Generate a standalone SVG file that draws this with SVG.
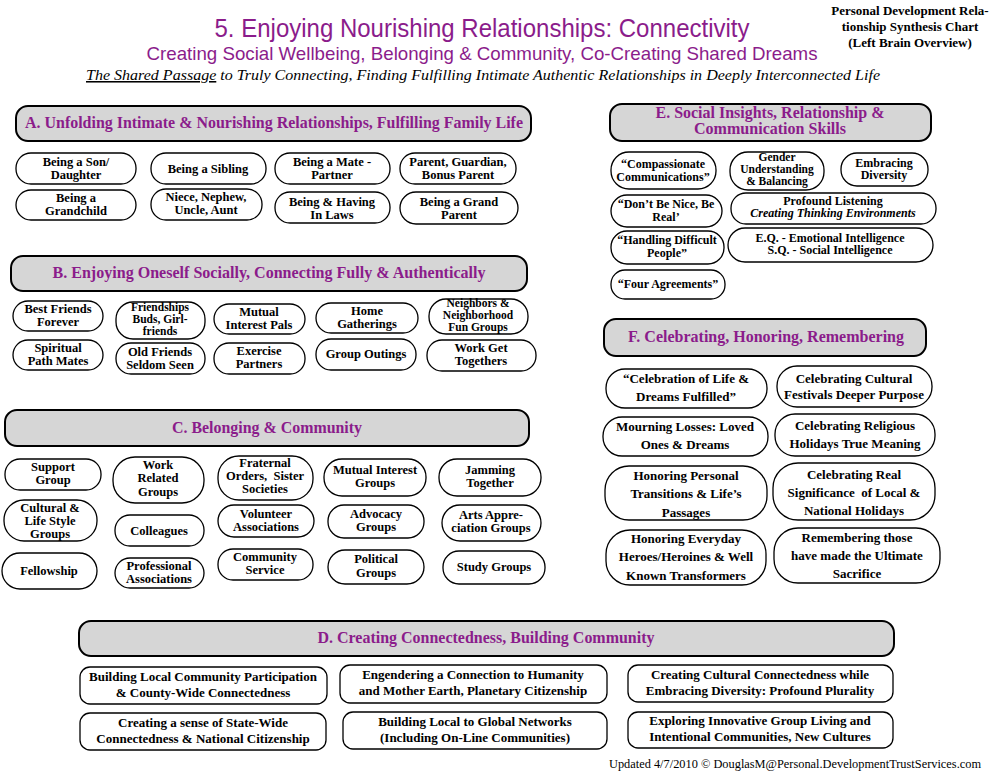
<svg xmlns="http://www.w3.org/2000/svg" width="995" height="774" viewBox="0 0 995 774">
<style>
text{font-family:"Liberation Serif","Times New Roman",serif;}
.ttl{font-family:"Liberation Sans",Arial,sans-serif;fill:#8b1c8b;text-anchor:middle;}
.hdr rect{fill:#d6d6d6;stroke:#000;stroke-width:2;}
.hdr text{font-weight:bold;font-size:16px;fill:#8b1c8b;text-anchor:middle;}
.n rect{fill:#fff;stroke:#000;stroke-width:1.3;}
.n text{font-weight:bold;font-size:12.5px;fill:#000;text-anchor:middle;white-space:pre;}
.e text{font-size:12px;}
.d text{font-size:13px;}
.f text{font-size:13px;}
.n.s text{font-size:11.5px;}
.it{font-style:italic;}
</style>
<rect width="995" height="774" fill="#fff"/>
<g id="title">
<text class="ttl" x="482" y="37" font-size="25" textLength="535" lengthAdjust="spacingAndGlyphs">5. Enjoying Nourishing Relationships: Connectivity</text>
<text class="ttl" x="482" y="60" font-size="19" textLength="671" lengthAdjust="spacingAndGlyphs">Creating Social Wellbeing, Belonging &amp; Community, Co-Creating Shared Dreams</text>
<text x="483" y="80" font-size="15.5" font-style="italic" text-anchor="middle" textLength="794" lengthAdjust="spacingAndGlyphs"><tspan text-decoration="underline">The Shared Passage</tspan> to Truly Connecting, Finding Fulfilling Intimate Authentic Relationships in Deeply Interconnected Life</text>
<g font-weight="bold" font-size="13" text-anchor="middle">
<text x="910" y="15">Personal Development Rela-</text>
<text x="910" y="31">tionship Synthesis Chart</text>
<text x="910" y="47">(Left Brain Overview)</text>
</g>
</g>
<g id="connectors"/>

<!-- A -->
<g id="hdrA" class="hdr"><rect x="16" y="106" width="515" height="35" rx="12"/><text x="274" y="128" textLength="498" lengthAdjust="spacingAndGlyphs">A. Unfolding Intimate &amp; Nourishing Relationships, Fulfilling Family Life</text></g>
<g id="a1" class="n"><rect x="16" y="153" width="120" height="31" rx="15"/><text x="76" y="166">Being a Son/</text><text x="76" y="179">Daughter</text></g>
<g id="a2" class="n"><rect x="151" y="153" width="115" height="31" rx="15"/><text x="208" y="173">Being a Sibling</text></g>
<g id="a3" class="n"><rect x="275" y="153" width="115" height="31" rx="15"/><text x="332" y="166">Being a Mate -</text><text x="332" y="179">Partner</text></g>
<g id="a4" class="n"><rect x="400" y="153" width="116" height="31" rx="15"/><text x="458" y="166">Parent, Guardian,</text><text x="458" y="179">Bonus Parent</text></g>
<g id="a5" class="n"><rect x="16" y="190" width="120" height="30" rx="15"/><text x="76" y="202">Being a</text><text x="76" y="215">Grandchild</text></g>
<g id="a6" class="n"><rect x="151" y="189" width="111" height="31" rx="15"/><text x="206" y="201">Niece, Nephew,</text><text x="206" y="214">Uncle, Aunt</text></g>
<g id="a7" class="n"><rect x="275" y="192" width="115" height="31" rx="15"/><text x="332" y="206">Being &amp; Having</text><text x="332" y="219">In Laws</text></g>
<g id="a8" class="n"><rect x="400" y="192" width="118" height="32" rx="16"/><text x="459" y="206">Being a Grand</text><text x="459" y="219">Parent</text></g>

<!-- B -->
<g id="hdrB" class="hdr"><rect x="11" y="256" width="516" height="35" rx="12"/><text x="269" y="278" textLength="433" lengthAdjust="spacingAndGlyphs">B. Enjoying Oneself Socially, Connecting Fully &amp; Authentically</text></g>
<g id="b1" class="n"><rect x="13" y="301" width="90" height="30" rx="15"/><text x="58" y="313">Best Friends</text><text x="58" y="326">Forever</text></g>
<g id="b2" class="n s"><rect x="116" y="302" width="89" height="37" rx="17"/><text x="160" y="311">Friendships</text><text x="160" y="323">Buds, Girl-</text><text x="160" y="335">friends</text></g>
<g id="b3" class="n"><rect x="214" y="304" width="91" height="30" rx="15"/><text x="259" y="316">Mutual</text><text x="259" y="329">Interest Pals</text></g>
<g id="b4" class="n"><rect x="316" y="303" width="102" height="30" rx="15"/><text x="367" y="315">Home</text><text x="367" y="328">Gatherings</text></g>
<g id="b5" class="n s"><rect x="429" y="299" width="99" height="35" rx="17"/><text x="478" y="307">Neighbors &amp;</text><text x="478" y="319">Neighborhood</text><text x="478" y="331">Fun Groups</text></g>
<g id="b6" class="n"><rect x="13" y="340" width="90" height="30" rx="15"/><text x="58" y="352">Spiritual</text><text x="58" y="365">Path Mates</text></g>
<g id="b7" class="n"><rect x="116" y="343" width="89" height="31" rx="15"/><text x="160" y="356">Old Friends</text><text x="160" y="369">Seldom Seen</text></g>
<g id="b8" class="n"><rect x="214" y="343" width="91" height="31" rx="15"/><text x="259" y="355">Exercise</text><text x="259" y="368">Partners</text></g>
<g id="b9" class="n"><rect x="316" y="339" width="100" height="31" rx="15"/><text x="366" y="358">Group Outings</text></g>
<g id="b10" class="n"><rect x="427" y="340" width="109" height="31" rx="15"/><text x="481" y="352">Work Get</text><text x="481" y="365">Togethers</text></g>

<!-- C -->
<g id="hdrC" class="hdr"><rect x="5" y="410" width="524" height="36" rx="12"/><text x="267" y="433" textLength="190" lengthAdjust="spacingAndGlyphs">C. Belonging &amp; Community</text></g>
<g id="c1" class="n"><rect x="5" y="459" width="96" height="31" rx="15"/><text x="53" y="471">Support</text><text x="53" y="484">Group</text></g>
<g id="c2" class="n"><rect x="4" y="500" width="93" height="41" rx="20"/><text x="50" y="512">Cultural &amp;</text><text x="50" y="525">Life Style</text><text x="50" y="538">Groups</text></g>
<g id="c3" class="n"><rect x="2" y="553" width="95" height="36" rx="18"/><text x="49" y="575">Fellowship</text></g>
<g id="c4" class="n"><rect x="113" y="457" width="91" height="46" rx="22"/><text x="158" y="469">Work</text><text x="158" y="482">Related</text><text x="158" y="496">Groups</text></g>
<g id="c5" class="n"><rect x="115" y="515" width="89" height="31" rx="15"/><text x="159" y="535">Colleagues</text></g>
<g id="c6" class="n"><rect x="115" y="558" width="89" height="30" rx="15"/><text x="159" y="570">Professional</text><text x="159" y="583">Associations</text></g>
<g id="c7" class="n"><rect x="218" y="456" width="95" height="44" rx="21"/><text x="265" y="467">Fraternal</text><text x="265" y="480">Orders,  Sister</text><text x="265" y="493">Societies</text></g>
<g id="c8" class="n"><rect x="218" y="505" width="96" height="32" rx="16"/><text x="266" y="518">Volunteer</text><text x="266" y="531">Associations</text></g>
<g id="c9" class="n"><rect x="218" y="549" width="95" height="31" rx="15"/><text x="265" y="561">Community</text><text x="265" y="574">Service</text></g>
<g id="c10" class="n"><rect x="324" y="459" width="102" height="37" rx="18"/><text x="375" y="474">Mutual Interest</text><text x="375" y="487">Groups</text></g>
<g id="c11" class="n"><rect x="328" y="505" width="96" height="33" rx="16"/><text x="376" y="518">Advocacy</text><text x="376" y="531">Groups</text></g>
<g id="c12" class="n"><rect x="328" y="550" width="96" height="34" rx="17"/><text x="376" y="563">Political</text><text x="376" y="577">Groups</text></g>
<g id="c13" class="n"><rect x="439" y="459" width="102" height="37" rx="18"/><text x="490" y="474">Jamming</text><text x="490" y="487">Together</text></g>
<g id="c14" class="n"><rect x="442" y="505" width="99" height="36" rx="18"/><text x="491" y="519">Arts Appre-</text><text x="491" y="532">ciation Groups</text></g>
<g id="c15" class="n"><rect x="443" y="551" width="102" height="33" rx="16"/><text x="494" y="571">Study Groups</text></g>

<!-- D -->
<g id="hdrD" class="hdr"><rect x="79" y="621" width="815" height="35" rx="12"/><text x="486" y="643" textLength="337" lengthAdjust="spacingAndGlyphs">D. Creating Connectedness, Building Community</text></g>
<g id="d1" class="n d"><rect x="80" y="667" width="247" height="37" rx="10"/><text x="203" y="681">Building Local Community Participation</text><text x="203" y="697">&amp; County-Wide Connectedness</text></g>
<g id="d2" class="n d"><rect x="340" y="665" width="267" height="38" rx="10"/><text x="473" y="679">Engendering a Connection to Humanity</text><text x="473" y="695">and Mother Earth, Planetary Citizenship</text></g>
<g id="d3" class="n d"><rect x="628" y="665" width="265" height="37" rx="10"/><text x="760" y="679">Creating Cultural Connectedness while</text><text x="760" y="695">Embracing Diversity: Profound Plurality</text></g>
<g id="d4" class="n d"><rect x="80" y="713" width="246" height="37" rx="10"/><text x="203" y="727">Creating a sense of State-Wide</text><text x="203" y="743">Connectedness &amp; National Citizenship</text></g>
<g id="d5" class="n d"><rect x="343" y="712" width="264" height="37" rx="10"/><text x="475" y="726">Building Local to Global Networks</text><text x="475" y="742">(Including On-Line Communities)</text></g>
<g id="d6" class="n d"><rect x="628" y="712" width="265" height="36" rx="10"/><text x="760" y="725">Exploring Innovative Group Living and</text><text x="760" y="741">Intentional Communities, New Cultures</text></g>

<!-- E -->
<g id="hdrE" class="hdr"><rect x="610" y="104" width="321" height="37" rx="12"/><text x="770" y="118" textLength="229" lengthAdjust="spacingAndGlyphs">E. Social Insights, Relationship &amp;</text><text x="770" y="134" textLength="152" lengthAdjust="spacingAndGlyphs">Communication Skills</text></g>
<g id="e1" class="n e"><rect x="611" y="152" width="105" height="37" rx="18"/><text x="663" y="168">“Compassionate</text><text x="663" y="181">Communications”</text></g>
<g id="e2" class="n e s"><rect x="730" y="152" width="94" height="38" rx="18"/><text x="777" y="161">Gender</text><text x="777" y="173">Understanding</text><text x="777" y="185">&amp; Balancing</text></g>
<g id="e3" class="n e"><rect x="841" y="153" width="87" height="33" rx="16"/><text x="884" y="167">Embracing</text><text x="884" y="179">Diversity</text></g>
<g id="e4" class="n e"><rect x="611" y="195" width="111" height="32" rx="16"/><text x="666" y="208">“Don’t Be Nice, Be</text><text x="666" y="221">Real’</text></g>
<g id="e5" class="n e"><rect x="731" y="193" width="205" height="31" rx="15"/><text x="833" y="205">Profound Listening</text><text x="833" y="217" class="it">Creating Thinking Environments</text></g>
<g id="e6" class="n e"><rect x="611" y="231" width="113" height="33" rx="16"/><text x="667" y="244">“Handling Difficult</text><text x="667" y="257">People”</text></g>
<g id="e7" class="n e"><rect x="728" y="228" width="205" height="34" rx="17"/><text x="830" y="242">E.Q. - Emotional Intelligence</text><text x="830" y="254">S.Q. - Social Intelligence</text></g>
<g id="e8" class="n e"><rect x="611" y="270" width="114" height="29" rx="14"/><text x="668" y="288">“Four Agreements”</text></g>

<!-- F -->
<g id="hdrF" class="hdr"><rect x="604" y="319" width="322" height="37" rx="12"/><text x="766" y="342" textLength="276" lengthAdjust="spacingAndGlyphs">F. Celebrating, Honoring, Remembering</text></g>
<g id="f1" class="n f"><rect x="606" y="369" width="161" height="39" rx="19"/><text x="686" y="383">“Celebration of Life &amp;</text><text x="686" y="401">Dreams Fulfilled”</text></g>
<g id="f2" class="n f"><rect x="603" y="417" width="165" height="39" rx="19"/><text x="685" y="431">Mourning Losses: Loved</text><text x="685" y="449">Ones &amp; Dreams</text></g>
<g id="f3" class="n f"><rect x="605" y="466" width="162" height="54" rx="24"/><text x="686" y="480">Honoring Personal</text><text x="686" y="498">Transitions &amp; Life’s</text><text x="686" y="517">Passages</text></g>
<g id="f4" class="n f"><rect x="606" y="530" width="160" height="55" rx="24"/><text x="686" y="543">Honoring Everyday</text><text x="686" y="561">Heroes/Heroines &amp; Well</text><text x="686" y="580">Known Transformers</text></g>
<g id="f5" class="n f"><rect x="777" y="366" width="155" height="41" rx="20"/><text x="854" y="383">Celebrating Cultural</text><text x="854" y="399">Festivals Deeper Purpose</text></g>
<g id="f6" class="n f"><rect x="775" y="414" width="160" height="42" rx="20"/><text x="855" y="430">Celebrating Religious</text><text x="855" y="448">Holidays True Meaning</text></g>
<g id="f7" class="n f"><rect x="773" y="463" width="162" height="57" rx="25"/><text x="854" y="479">Celebrating Real</text><text x="854" y="497">Significance  of Local &amp;</text><text x="854" y="515">National Holidays</text></g>
<g id="f8" class="n f"><rect x="774" y="528" width="166" height="55" rx="24"/><text x="857" y="542">Remembering those</text><text x="857" y="560">have made the Ultimate</text><text x="857" y="578">Sacrifice</text></g>

<text x="981" y="768" font-size="12" text-anchor="end" textLength="372" lengthAdjust="spacingAndGlyphs">Updated 4/7/2010 © DouglasM@Personal.DevelopmentTrustServices.com</text>
</svg>
